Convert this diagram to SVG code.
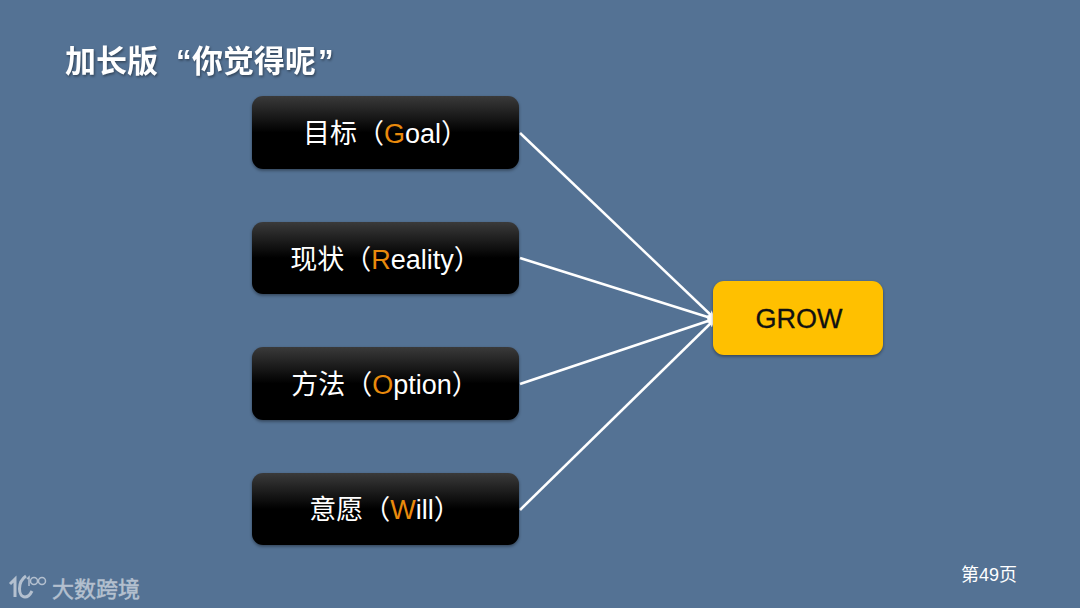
<svg xmlns="http://www.w3.org/2000/svg" width="1080" height="608" viewBox="0 0 1080 608">
<style>
text{font-family:"Liberation Sans","Noto Sans CJK SC",sans-serif}
.t{font-size:27px;fill:#fff;text-anchor:middle}
.o{fill:#e98a0c}
.b{fill:url(#g);filter:url(#s)}
.c{stroke:#fff;stroke-width:2.5;fill:none}
</style>
<defs>
<linearGradient id="g" x1="0" y1="0" x2="0" y2="1"><stop offset="0" stop-color="#3a3a3a"/><stop offset="0.5" stop-color="#000"/><stop offset="1" stop-color="#000"/></linearGradient>
<filter id="s" x="-5%" y="-10%" width="110%" height="125%" color-interpolation-filters="sRGB"><feDropShadow dx="0" dy="1.5" stdDeviation="1.5" flood-color="#000" flood-opacity="0.4"/></filter>
<filter id="ts" x="-5%" y="-20%" width="110%" height="150%" color-interpolation-filters="sRGB"><feDropShadow dx="1" dy="1.5" stdDeviation="1" flood-color="#000" flood-opacity="0.4"/></filter>
<marker id="a" markerUnits="userSpaceOnUse" markerWidth="10" markerHeight="10" refX="7" refY="5" orient="auto"><path d="M0 1L8 5L0 9L2 5Z" fill="#fff"/></marker>
</defs>
<rect width="1080" height="608" fill="#547294"/>
<text id="title" x="65" y="72" font-size="31" font-weight="700" fill="#fff" filter="url(#ts)">加长版<tspan x="176">“</tspan><tspan x="192">你觉得呢</tspan><tspan x="318">”</tspan></text>
<g id="connectors">
<line class="c" x1="520" y1="133" x2="714" y2="318" marker-end="url(#a)"/>
<line class="c" x1="520" y1="258" x2="714" y2="319" marker-end="url(#a)"/>
<line class="c" x1="520" y1="384" x2="714" y2="319" marker-end="url(#a)"/>
<line class="c" x1="520" y1="510" x2="714" y2="320" marker-end="url(#a)"/>
</g>
<g id="goal"><rect class="b" x="252" y="96" width="267" height="73" rx="11"/><text class="t" x="385.500" y="143">目标（<tspan class="o">G</tspan>oal）</text></g>
<g id="reality"><rect class="b" x="252" y="222" width="267" height="72" rx="11"/><text class="t" x="385.500" y="269">现状（<tspan class="o">R</tspan>eality）</text></g>
<g id="option"><rect class="b" x="252" y="347" width="267" height="73" rx="11"/><text class="t" x="385" y="394">方法（<tspan class="o">O</tspan>ption）</text></g>
<g id="will"><rect class="b" x="252" y="473" width="267" height="72" rx="11"/><text class="t" x="385" y="519">意愿（<tspan class="o">W</tspan>ill）</text></g>
<g id="grow"><rect x="713" y="281" width="170" height="74" rx="11" fill="#ffc000" filter="url(#s)"/><text x="799" y="328" font-size="27" fill="#111" stroke="#111" stroke-width="0.3" text-anchor="middle">GROW</text></g>
<text id="page" x="989" y="581" font-size="18" fill="#fff" text-anchor="middle">第49页</text>
<g id="logo" fill="none" stroke="#b4c0cf">
<path d="M10 584L15 579V597" stroke-width="3"/>
<path d="M26 576C17 582 18 597 25 597C28 597 30 595 32 591" stroke-width="3"/>
<path d="M27 579L29 577V586" stroke-width="1.500"/>
<circle cx="34" cy="581" r="3.500" stroke-width="1.500"/><circle cx="42" cy="581" r="3.500" stroke-width="1.500"/>
</g>
<text id="brand" x="52" y="597" font-size="22" fill="#b4c0cf" stroke="#b4c0cf" stroke-width="0.5">大数跨境</text>
</svg>
